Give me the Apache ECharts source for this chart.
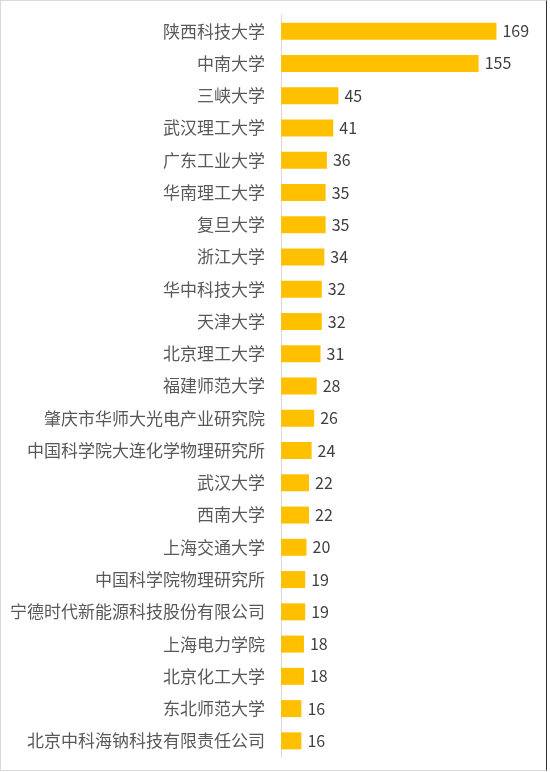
<!DOCTYPE html>
<html>
<head>
<meta charset="utf-8">
<script src="https://cdn.jsdelivr.net/npm/echarts@6/dist/echarts.min.js"></script>
<style>
html,body{margin:0;padding:0;background:#fff;}
#wrap{position:relative;width:550px;height:772px;}
#chart{position:absolute;left:0;top:0;width:550px;height:772px;}
#frame{position:absolute;left:0;top:0;width:545px;height:769px;border:1px solid #d9d9d9;border-right:1px solid #333;pointer-events:none;}
</style>
</head>
<body>
<div id="wrap"><div id="chart"></div><div id="frame"></div></div>
<script>
const categories = ["陕西科技大学","中南大学","三峡大学","武汉理工大学","广东工业大学","华南理工大学","复旦大学","浙江大学","华中科技大学","天津大学","北京理工大学","福建师范大学","肇庆市华师大光电产业研究院","中国科学院大连化学物理研究所","武汉大学","西南大学","上海交通大学","中国科学院物理研究所","宁德时代新能源科技股份有限公司","上海电力学院","北京化工大学","东北师范大学","北京中科海钠科技有限责任公司"];
const values = [169,155,45,41,36,35,35,34,32,32,31,28,26,24,22,22,20,19,19,18,18,16,16];

const chart = echarts.init(document.getElementById('chart'));
chart.setOption({
  animation: false,
  grid: {left: 281, top: 15, width: 255, height: 742, containLabel: false},
  xAxis: {type: 'value', min: 0, max: 200, show: false},
  yAxis: {
    type: 'category', data: categories, inverse: true,
    axisLine: {show: true, lineStyle: {color: '#d9d9d9', width: 1}},
    axisTick: {show: false},
    axisLabel: {color: '#595959', fontSize: 17, fontFamily: 'Noto Sans CJK SC', margin: 16}
  },
  series: [{
    type: 'bar', data: values, barWidth: 17,
    itemStyle: {color: '#FFC000'},
    label: {show: true, position: 'right', distance: 6, color: '#404040', fontSize: 16, fontFamily: 'Noto Sans CJK SC'}
  }]
});
</script>
</body>
</html>
